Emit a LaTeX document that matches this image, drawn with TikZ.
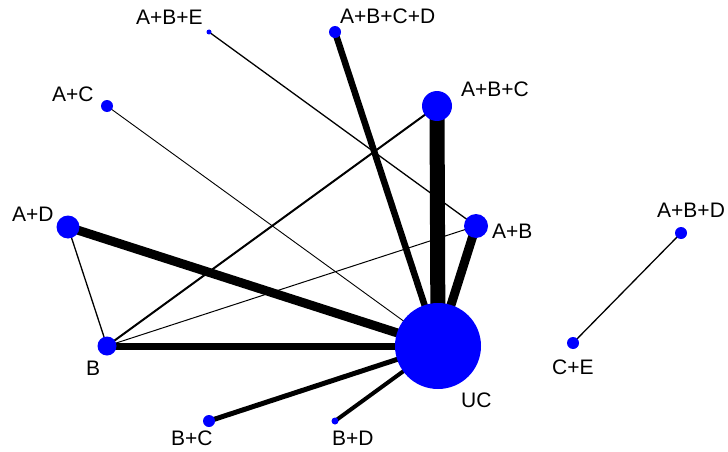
\documentclass[tikz,border=0pt]{standalone}
\usepackage{fontspec}
\setmainfont{Liberation Sans}
\usetikzlibrary{backgrounds}
\tikzset{
  x=1pt, y=-1pt,
  trt/.style={circle, fill=blue, draw=none, inner sep=0pt, minimum size=#1},
  lbl/.style={anchor=base west, inner sep=0pt, font=\fontsize{21}{23}\selectfont},
  link/.style={draw=black, line width=#1}
}
\begin{document}
\begin{tikzpicture}
\useasboundingbox (0,0) rectangle (728,452);
% treatment nodes (size ~ number of patients)
\node[trt=86pt] (UC)   at (438,346) {};
\node[trt=30pt] (ABC)  at (437,106) {};
\node[trt=24pt] (AB)   at (476,226) {};
\node[trt=23pt] (AD)   at (68,227) {};
\node[trt=19pt] (B)    at (107,346) {};
\node[trt=12pt] (AC)   at (107,106) {};
\node[trt=5pt]  (ABE)  at (209,32) {};
\node[trt=12pt] (ABCD) at (335,32) {};
\node[trt=12pt] (BC)   at (209,421) {};
\node[trt=7pt]  (BD)   at (335,421) {};
\node[trt=12pt] (ABD)  at (681,233) {};
\node[trt=12pt] (CE)   at (573,343) {};
% labels
\node[lbl] (lUC)   at (461,407) {UC};
\node[lbl] (lABC)  at (461,96)  {A+B+C};
\node[lbl] (lAB)   at (492,238) {A+B};
\node[lbl] (lAD)   at (12,221)  {A+D};
\node[lbl] (lB)    at (86,375)  {B};
\node[lbl] (lAC)   at (52,101)  {A+C};
\node[lbl] (lABE)  at (136,25)  {A+B+E};
\node[lbl] (lABCD) at (340,24)  {A+B+C+D};
\node[lbl] (lBC)   at (171,445) {B+C};
\node[lbl] (lBD)   at (332,445) {B+D};
\node[lbl] (lABD)  at (657,217) {A+B+D};
\node[lbl] (lCE)   at (552,374) {C+E};
% comparisons (width ~ number of studies)
\begin{scope}[on background layer]
\draw[link=15pt] (UC.center) -- (ABC.center);
\draw[link=9pt]  (UC.center) -- (AB.center);
\draw[link=6.5pt] (UC.center) -- (ABCD.center);
\draw[link=9pt]  (UC.center) -- (AD.center);
\draw[link=7pt]  (UC.center) -- (B.center);
\draw[link=5pt]  (UC.center) -- (BC.center);
\draw[link=4pt]  (UC.center) -- (BD.center);
\draw[link=0.9pt] (UC.center) -- (AC.center);
\draw[link=1.3pt] (ABE.center) -- (AB.center);
\draw[link=2pt]  (B.center) -- (ABC.center);
\draw[link=1pt]  (B.center) -- (AB.center);
\draw[link=1.3pt] (AD.center) -- (B.center);
\draw[link=1.3pt] (ABD.center) -- (CE.center);
\end{scope}
\end{tikzpicture}
\end{document}
